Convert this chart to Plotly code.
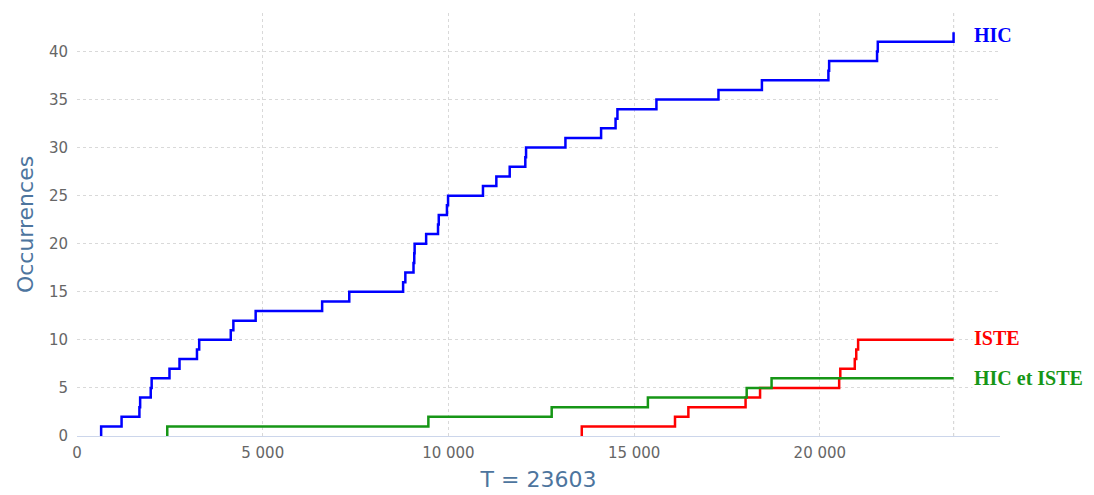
import plotly.graph_objects as go

# ---- data ----
T_END = 23603

hic_times = [650, 1200, 1680, 1700, 1985, 2010, 2490, 2760, 3230, 3290,
             4140, 4210, 4810, 6600, 7330, 8780, 8840, 9060, 9080, 9090,
             9400, 9720, 9740, 9960, 9990, 10930, 11290, 11650, 12070, 12090,
             13150, 14110, 14500, 14550, 15600, 17270, 18440, 20230, 20250, 21540,
             21560, 23600]

iste_times = [13590, 16100, 16460, 18000, 18390, 20520, 20550, 20940, 20980, 21030]

both_times = [2430, 9460, 12780, 15370, 18030, 18700]

series_names = ["HIC", "ISTE", "HIC et ISTE"]
series_colors = ["#0000ff", "#ff0000", "#169616"]

x_ticks = [0, 5000, 10000, 15000, 20000]
y_ticks = [0, 5, 10, 15, 20, 25, 30, 35, 40]


def step_xy(times, extend_to=None):
    xs = [times[0]] + list(times)
    ys = [0] + list(range(1, len(times) + 1))
    if extend_to is not None and extend_to > times[-1]:
        xs.append(extend_to)
        ys.append(len(times))
    return xs, ys


fig = go.Figure()

all_series = [
    (hic_times, None),
    (iste_times, T_END),
    (both_times, T_END),
]

for (times, ext), name, color in zip(all_series, series_names, series_colors):
    xs, ys = step_xy(times, ext)
    fig.add_trace(go.Scatter(
        x=xs, y=ys, mode="lines", name=name,
        line=dict(color=color, width=2.5, shape="hv"),
        showlegend=False,
    ))

# end labels
label_shift = {"HIC": -3, "ISTE": 2, "HIC et ISTE": 0}
for (times, ext), name, color in zip(all_series, series_names, series_colors):
    fig.add_annotation(
        x=T_END, y=len(times), xref="x", yref="y",
        text="<b>%s</b>" % name, showarrow=False,
        xanchor="left", yanchor="middle", xshift=18, yshift=label_shift[name],
        font=dict(family="Liberation Serif, Times New Roman, serif", size=20, color=color),
        bgcolor="white", borderpad=1,
    )

# vertical dashed line at T
fig.add_shape(type="line", x0=T_END, x1=T_END, y0=0, y1=1, xref="x", yref="paper",
              line=dict(color="#d0d0d0", width=1, dash="3px,3px"), layer="below")

tick_font = dict(family="DejaVu Sans, Verdana, sans-serif", size=15, color="#666666")
title_font = dict(family="DejaVu Sans, Verdana, sans-serif", size=22, color="#4d759e")

fig.update_xaxes(
    range=[0, 24850],
    tickvals=x_ticks,
    tickformat=",d",
    showgrid=True, gridcolor="#d9d9d9", griddash="3px,3px", gridwidth=1,
    zeroline=False,
    showline=True, linecolor="#ccd6eb", linewidth=1,
    ticks="", tickfont=tick_font, ticklabelstandoff=3,
    title=dict(text="T = %d" % T_END, font=title_font, standoff=10),
    automargin=False,
)
fig.update_yaxes(
    range=[0, 44],
    tickvals=y_ticks,
    showgrid=True, gridcolor="#d9d9d9", griddash="3px,3px", gridwidth=1,
    zeroline=False, showline=False,
    ticks="", tickfont=tick_font, ticklabelstandoff=8,
    title=dict(text="Occurrences", font=title_font, standoff=9),
    automargin=False,
)

# the page body adds an 8px margin, so the figure is 8px smaller on each side
fig.update_layout(
    width=1086, height=487,
    margin=dict(l=69, r=94, t=5, b=59),
    paper_bgcolor="white", plot_bgcolor="white",
    separators=". ",
)

fig.write_html("out.html")
